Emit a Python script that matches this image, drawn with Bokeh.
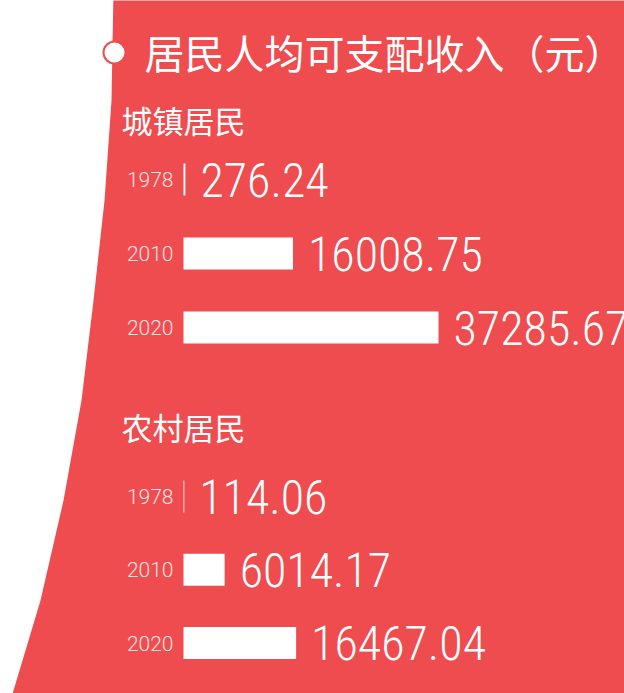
from bokeh.plotting import figure
from bokeh.models import Range1d
from bokeh.core.properties import value
from bokeh.embed import file_html
from bokeh.resources import INLINE

# ---- data ----
title = "居民人均可支配收入（元）"
groups = ["城镇居民", "农村居民"]
years = ["1978", "2010", "2020"]
urban = [276.24, 16008.75, 37285.67]
rural = [114.06, 6014.17, 16467.04]
series = [urban, rural]

# ---- layout ----
RED = "#EE4C4E"
W, H = 624, 693
bar_x0 = 183          # pixel where value 0 sits
bar_px_max = 255      # pixels used by the largest value
scale = bar_px_max / max(urban + rural)
vx_start = (0 - bar_x0) / scale
vx_end = (W - bar_x0) / scale
header_y = [119, 426]
row_first = [179, 496]
row_gap = [74, 73.3]

p = figure(width=W, height=H, output_backend="svg", toolbar_location=None,
           x_range=Range1d(vx_start, vx_end), y_range=Range1d(H, 0),
           min_border=0, background_fill_color="white", border_fill_color="white")
p.extra_x_ranges = {"px": Range1d(0, W)}
p.xaxis.visible = False
p.yaxis.visible = False
p.grid.visible = False
p.outline_line_color = None

# red background with curved left edge
cx = [113, 111, 104, 93, 81, 63, 40, 10, 700, 700]
cy = [-10, 100, 200, 300, 400, 500, 600, 700, 700, -10]
p.patch(cx, cy, fill_color=RED, line_color=None, x_range_name="px")

# title bullet + title
p.scatter([114], [52], size=22, marker="circle", fill_color="white",
          line_color=RED, line_width=2, x_range_name="px")
p.text([144], [51], text=[title], text_font=value("Noto Sans CJK SC"),
       text_font_size="40px", text_color="white", text_baseline="middle",
       text_align="left", x_range_name="px")

for g, (name, vals) in enumerate(zip(groups, series)):
    ys = [row_first[g] + i * row_gap[g] for i in range(len(vals))]
    p.text([121], [header_y[g]], text=[name], text_font=value("Noto Sans CJK SC"),
           text_font_size="31px", text_color="white", text_baseline="middle",
           text_align="left", x_range_name="px")
    p.hbar(y=ys, left=0, right=vals, height=32, fill_color="white", line_color=None)
    p.text([0] * len(vals), ys, text=years, x_offset=-10,
           text_font=value("Roboto Light"), text_font_size="21px",
           text_color="#FDE4E4", text_baseline="middle", text_align="right")
    p.text(vals, ys, text=[f"{v:.2f}" for v in vals], x_offset=15,
           text_font=value("'Roboto Condensed Light', 'Roboto Condensed'"),
           text_font_size="48px",
           text_color="white", text_baseline="middle", text_align="left")

open("out.html", "w").write(file_html(p, INLINE))
